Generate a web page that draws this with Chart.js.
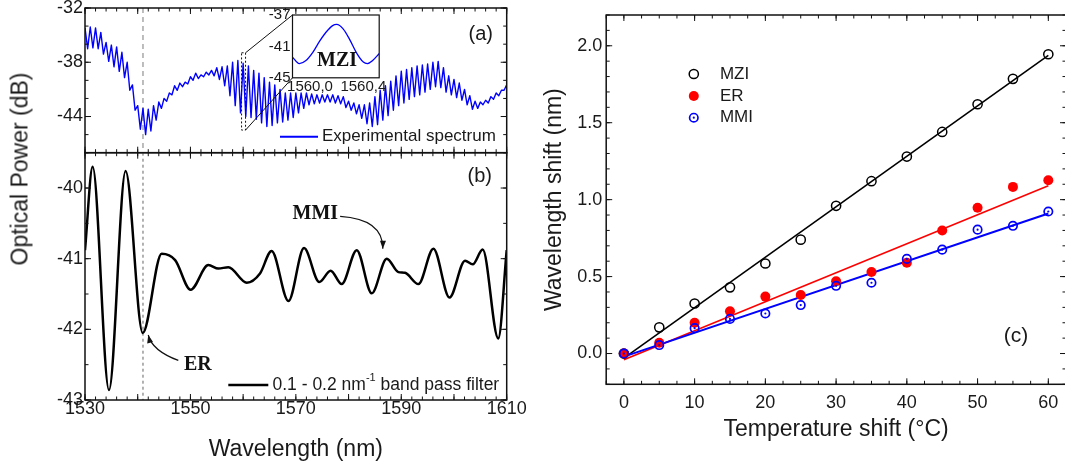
<!DOCTYPE html>
<html>
<head>
<meta charset="utf-8">
<script src="https://cdn.jsdelivr.net/npm/chart.js@4.4.1/dist/chart.umd.min.js"></script>
<style>
  html, body { margin: 0; padding: 0; background: #fff; }
  #wrap { position: relative; width: 1065px; height: 468px; overflow: hidden; background: #fff; }
  canvas { position: absolute; }
  #cA { left: 0; top: 0; z-index: 1; }
  #cB { left: 0; top: 140px; z-index: 2; }
  #cInset { left: 240px; top: 0; z-index: 3; }
  #cC { left: 520px; top: 0; z-index: 2; }
  #yTitle {
    position: absolute; left: 20px; top: 169px; z-index: 4;
    transform: translate(-50%, -50%) rotate(-90deg);
    font: 23px "Liberation Sans", Arial, sans-serif; color: #1a1a1a; white-space: nowrap;
  }
</style>
</head>
<body>
<div id="wrap">
  <canvas id="cA" width="520" height="160"></canvas>
  <canvas id="cB" width="560" height="328"></canvas>
  <canvas id="cInset" width="150" height="100"></canvas>
  <canvas id="cC" width="560" height="468"></canvas>
  <div id="yTitle">Optical Power (dB)</div>
</div>
<script>
// ---- (a) measured spectrum: fringe tops at whole nm, fringe bottoms half way between ----
const specStart = 1530;
const specHigh = [
  -34.2, -34.1, -34.2, -34.7, -35.8, -36.1, -36.3, -36.9, -38.0, -40.5,
  -42.8, -43.1, -43.2, -42.8, -42.4, -42.0, -41.4, -40.6, -40.3, -40.2,
  -39.6, -39.2, -39.4, -39.1, -38.9, -38.6, -38.5, -38.4, -38.0, -37.8,
  -38.1, -38.4, -38.9, -39.2, -39.7, -40.2, -40.5, -41.0, -41.4, -41.4,
  -41.4, -41.4, -41.4, -41.5, -41.6, -41.6, -41.6, -41.6, -41.7, -41.8,
  -42.3, -42.5, -42.7, -42.7, -42.5, -41.8, -41.1, -40.6, -40.1, -39.5,
  -39.0, -38.8, -38.6, -38.4, -38.3, -38.2, -38.0, -37.9, -38.6, -39.5,
  -39.9, -40.3, -41.0, -41.7, -42.3, -42.4, -42.2, -41.8, -41.4, -41.1,
  -40.5
];
const specLow = [
  -36.5, -36.4, -36.5, -37.1, -37.9, -38.5, -39.0, -39.7, -41.1, -43.3,
  -45.4, -46.0, -45.6, -44.4, -43.1, -42.3, -41.6, -41.1, -40.7, -40.4,
  -40.0, -39.8, -39.6, -39.4, -39.5, -39.9, -40.6, -41.7, -42.8, -43.6,
  -44.0, -44.1, -44.3, -44.7, -45.1, -45.0, -44.7, -44.6, -44.4, -44.1,
  -43.6, -43.1, -42.7, -42.6, -42.5, -42.4, -42.4, -42.5, -42.6, -43.0,
  -43.3, -43.7, -44.2, -44.8, -45.1, -44.9, -44.4, -43.9, -43.3, -42.8,
  -42.5, -42.1, -41.8, -41.6, -41.3, -41.0, -40.7, -40.8, -41.3, -41.6,
  -41.9, -42.2, -42.7, -43.2, -43.1, -42.7, -42.5, -42.1, -41.7, -41.1
];

// inset: one MZI fringe near 1560 nm
const insetWl = [1559.87, 1559.92, 1559.97, 1560.02, 1560.07, 1560.12, 1560.17, 1560.2,
                 1560.25, 1560.3, 1560.35, 1560.4, 1560.43, 1560.47, 1560.52];
const insetDb = [-42.4, -43.2, -42.8, -41.8, -40.4, -39.2, -38.35, -38.2,
                 -38.8, -40.2, -41.85, -43.0, -43.2, -42.8, -41.9];

// ---- (b) band pass filtered spectrum ----
const filtWl = [1530, 1531.45, 1534.55, 1537.7, 1540.95, 1544.55, 1547.1, 1550.05, 1553.4, 1555.3,
                1557.2, 1560.7, 1563.2, 1565.4, 1568.6, 1571.55, 1574.45, 1576.6, 1578.7, 1581.55,
                1584.4, 1587.25, 1589.45, 1590.7, 1593.25, 1596.1, 1599.15, 1602.1, 1603.55, 1605.45,
                1608.4, 1610];
const filtDb = [-40.88, -39.70, -42.86, -39.76, -42.05, -40.93, -41.02, -41.44, -41.09, -41.14,
                -41.12, -41.34, -41.21, -40.89, -41.60, -40.85, -41.33, -41.17, -41.36, -40.88,
                -41.49, -41.00, -41.19, -41.20, -41.36, -40.86, -41.55, -41.03, -41.08, -40.87,
                -42.13, -40.88];
const erWl = 1541;

// ---- (c) temperature response ----
const tempShift = [0, 5, 10, 15, 20, 25, 30, 35, 40, 45, 50, 55, 60];
const mziShift = [0, 0.17, 0.325, 0.43, 0.585, 0.74, 0.96, 1.12, 1.28, 1.44, 1.62, 1.785, 1.945];
const erShift  = [0, 0.07, 0.20, 0.275, 0.37, 0.38, 0.47, 0.53, 0.59, 0.80, 0.947, 1.083, 1.126];
const mmiShift = [0, 0.055, 0.165, 0.225, 0.26, 0.315, 0.44, 0.46, 0.615, 0.675, 0.805, 0.83, 0.923];
const fitT = [0, 60];
const mziFit = [-0.03, 1.937];
const erFit = [-0.04, 1.09];
const mmiFit = [-0.02, 0.91];

Chart.defaults.font.family = '"Liberation Sans", Arial, Helvetica, sans-serif';
Chart.defaults.color = '#1a1a1a';

const SANS = '"Liberation Sans", Arial, sans-serif';
const SERIF = '"Liberation Serif", "Times New Roman", serif';

function range(from, to, step) {
  const out = [];
  for (let v = from; v <= to + 1e-9; v += step) out.push(+v.toFixed(6));
  return out;
}
function pts(xs, ys) { return xs.map((x, i) => ({ x, y: ys[i] })); }

function zeroPad(s) { s.paddingTop = 0; s.paddingBottom = 0; s.paddingLeft = 0; s.paddingRight = 0; }

function axis(size, list, fmt, fontSize, pad, extra) {
  return Object.assign({
    type: 'linear',
    grid: { display: false, drawTicks: false },
    border: { display: false },
    ticks: { font: { size: fontSize }, padding: pad, autoSkip: false, maxRotation: 0, callback: fmt },
    afterBuildTicks: s => { s.ticks = list.map(value => ({ value })); },
    afterFit: s => { if (s.isHorizontal()) s.height = size; else s.width = size; zeroPad(s); }
  }, extra);
}

// box with inward ticks on all four sides
function makeFrame(spec) {
  return {
    id: 'frame',
    afterDatasetsDraw(chart) {
      const { ctx, chartArea: a, scales } = chart;
      ctx.save();
      ctx.strokeStyle = '#111';
      ctx.lineWidth = 1;
      const marks = (ax, vals, len) => {
        if (!vals) return;
        ctx.beginPath();
        vals.forEach(v => {
          const p = scales[ax].getPixelForValue(v);
          if (ax === 'x') {
            ctx.moveTo(p, a.bottom); ctx.lineTo(p, a.bottom - len);
            ctx.moveTo(p, a.top); ctx.lineTo(p, a.top + len);
          } else {
            ctx.moveTo(a.left, p); ctx.lineTo(a.left + len, p);
            ctx.moveTo(a.right, p); ctx.lineTo(a.right - len, p);
          }
        });
        ctx.stroke();
      };
      marks('x', spec.xMajor, 6); marks('x', spec.xMinor, 3.5);
      marks('y', spec.yMajor, 6); marks('y', spec.yMinor, 3.5);
      ctx.lineWidth = spec.width || 1.5;
      ctx.strokeRect(a.left, a.top, a.right - a.left, a.bottom - a.top);
      ctx.restore();
    }
  };
}

function vLine(chart, value, color, width, dash) {
  const { ctx, chartArea: a, scales: { x } } = chart;
  const px = x.getPixelForValue(value);
  ctx.save();
  ctx.strokeStyle = color; ctx.lineWidth = width; ctx.setLineDash(dash);
  ctx.beginPath(); ctx.moveTo(px, a.top); ctx.lineTo(px, a.bottom); ctx.stroke();
  ctx.restore();
}

function arrow(ctx, s, c, e) {
  ctx.beginPath(); ctx.moveTo(s[0], s[1]); ctx.quadraticCurveTo(c[0], c[1], e[0], e[1]); ctx.stroke();
  const ang = Math.atan2(e[1] - c[1], e[0] - c[0]);
  const L = 8, W = 3;
  ctx.beginPath();
  ctx.moveTo(e[0], e[1]);
  ctx.lineTo(e[0] - L * Math.cos(ang) + W * Math.sin(ang), e[1] - L * Math.sin(ang) - W * Math.cos(ang));
  ctx.lineTo(e[0] - L * Math.cos(ang) - W * Math.sin(ang), e[1] - L * Math.sin(ang) + W * Math.cos(ang));
  ctx.closePath(); ctx.fill();
}

const common = {
  responsive: false, animation: false, events: [],
  plugins: { legend: { display: false }, tooltip: { enabled: false } }
};

// ---- inset ----
const insetCanvas = document.getElementById('cInset');
const insetChart = new Chart(insetCanvas, {
  type: 'scatter',
  data: { datasets: [{ data: pts(insetWl, insetDb), showLine: true, borderColor: '#0000ff', borderWidth: 1.3,
                       pointRadius: 0, cubicInterpolationMode: 'monotone' }] },
  options: Object.assign({}, common, {
    layout: { padding: { top: 15, right: 10.8, bottom: 0, left: 0 } },
    scales: {
      x: axis(22.2, [1560.0, 1560.4], v => v.toFixed(1).replace('.', ','), 15, 0, { min: 1559.869, max: 1560.519 }),
      y: axis(52.5, [-45, -41, -37], v => String(v), 15, 2, { min: -45, max: -37 })
    }
  }),
  plugins: [{
    id: 'insetBox',
    beforeDatasetsDraw(chart) {
      const { ctx, chartArea: a } = chart;
      ctx.save(); ctx.fillStyle = '#fff'; ctx.fillRect(a.left, a.top, a.right - a.left, a.bottom - a.top); ctx.restore();
    },
    afterDatasetsDraw(chart) {
      const { ctx, chartArea: a, scales: { x, y } } = chart;
      ctx.save();
      ctx.strokeStyle = '#111'; ctx.lineWidth = 1.2;
      ctx.strokeRect(a.left, a.top, a.right - a.left, a.bottom - a.top);
      ctx.fillStyle = '#111';
      ctx.font = 'bold 20px ' + SERIF;
      ctx.textAlign = 'center'; ctx.textBaseline = 'middle';
      ctx.fillText('MZI', x.getPixelForValue(1560.203), y.getPixelForValue(-42.9));
      ctx.restore();
    }
  }]
});

// ---- panel (a) ----
const specPts = [];
specHigh.forEach((v, i) => {
  specPts.push({ x: specStart + i, y: v });
  if (i < specLow.length) specPts.push({ x: specStart + i + 0.5, y: specLow[i] });
});
const zoomBox = { x0: 1559.7, x1: 1560.46, y0: -45.5, y1: -36.95 };

const chartA = new Chart(document.getElementById('cA'), {
  type: 'scatter',
  data: { datasets: [{ data: specPts, showLine: true, borderColor: '#0000ff', borderWidth: 1.4,
                       pointRadius: 0, tension: 0, borderJoinStyle: 'round' }] },
  options: Object.assign({}, common, {
    layout: { padding: { top: 8, right: 13.3, bottom: 7.3, left: 0 } },
    scales: {
      x: { type: 'linear', min: 1530, max: 1610, display: false },
      y: axis(85, [-44, -38, -32], v => String(v), 18, 2, { min: -48, max: -32 })
    }
  }),
  plugins: [
    makeFrame({ xMajor: range(1530, 1610, 10), xMinor: range(1530, 1610, 2),
                yMajor: [-44, -38, -32], yMinor: range(-48, -32, 2) }),
    {
      id: 'panelA',
      beforeDatasetsDraw(chart) { vLine(chart, erWl, '#a8a8a8', 1.5, [5, 4]); },
      afterDatasetsDraw(chart) {
        const { ctx, chartArea: a, scales: { x, y } } = chart;
        ctx.save();
        // zoom window and connectors to the inset
        const bx0 = x.getPixelForValue(zoomBox.x0), bx1 = x.getPixelForValue(zoomBox.x1);
        const by0 = y.getPixelForValue(zoomBox.y1), by1 = y.getPixelForValue(zoomBox.y0);
        ctx.strokeStyle = '#111'; ctx.lineWidth = 1;
        ctx.setLineDash([2, 2]);
        ctx.strokeRect(bx0, by0, bx1 - bx0, by1 - by0);
        ctx.setLineDash([]);
        const ia = insetChart.chartArea;
        const ox = insetCanvas.offsetLeft, oy = insetCanvas.offsetTop;
        ctx.beginPath();
        ctx.moveTo(bx1, by0); ctx.lineTo(ox + ia.left, oy + ia.top);
        ctx.moveTo(bx1, by1); ctx.lineTo(ox + ia.left, oy + ia.bottom);
        ctx.stroke();
        // legend
        const ly = a.bottom - 16;
        ctx.strokeStyle = '#0000ff'; ctx.lineWidth = 2;
        ctx.beginPath(); ctx.moveTo(a.left + 195, ly); ctx.lineTo(a.left + 233, ly); ctx.stroke();
        ctx.fillStyle = '#1a1a1a';
        ctx.font = '17px ' + SANS; ctx.textAlign = 'left'; ctx.textBaseline = 'middle';
        ctx.fillText('Experimental spectrum', a.left + 237, ly);
        ctx.font = '20px ' + SANS; ctx.textAlign = 'center';
        ctx.fillText('(a)', a.right - 26, a.top + 26);
        ctx.restore();
      }
    }
  ]
});

// ---- panel (b) ----
const notes = [
  { text: 'MMI', at: [1573.7, -40.36], path: [[1578.4, -40.40], [1586.6, -40.44], [1586.5, -40.86]] },
  { text: 'ER', at: [1551.4, -42.50], path: [[1547.7, -42.44], [1542.7, -42.30], [1542.0, -42.08]] }
];

const chartB = new Chart(document.getElementById('cB'), {
  type: 'scatter',
  data: { datasets: [{ data: pts(filtWl, filtDb), showLine: true, borderColor: '#000', borderWidth: 2.5,
                       pointRadius: 0, cubicInterpolationMode: 'monotone' }] },
  options: Object.assign({}, common, {
    layout: { padding: { top: 12.7, right: 53.3, bottom: 0, left: 0 } },
    scales: {
      x: axis(68, [1530, 1550, 1570, 1590, 1610], v => String(v), 18, -2, {
        min: 1530, max: 1610,
        title: { display: true, text: 'Wavelength (nm)', font: { size: 23 }, padding: { top: 0, bottom: 4.2 } }
      }),
      y: axis(85, [-43, -42, -41, -40], v => String(v), 18, 2, { min: -43, max: -39.5 })
    }
  }),
  plugins: [
    makeFrame({ xMajor: range(1530, 1610, 10), xMinor: range(1530, 1610, 2),
                yMajor: range(-43, -40, 1), yMinor: range(-43, -39.5, 0.5) }),
    {
      id: 'panelB',
      beforeDatasetsDraw(chart) { vLine(chart, erWl, '#666', 1, [3, 3]); },
      afterDatasetsDraw(chart) {
        const { ctx, chartArea: a, scales: { x, y } } = chart;
        const P = p => [x.getPixelForValue(p[0]), y.getPixelForValue(p[1])];
        ctx.save();
        ctx.fillStyle = '#111'; ctx.strokeStyle = '#111'; ctx.lineWidth = 1.2;
        notes.forEach(n => {
          const t = P(n.at);
          ctx.font = 'bold 20px ' + SERIF; ctx.textAlign = 'center'; ctx.textBaseline = 'middle';
          ctx.fillText(n.text, t[0], t[1]);
          arrow(ctx, P(n.path[0]), P(n.path[1]), P(n.path[2]));
        });
        // legend with superscript
        const ly = a.bottom - 15;
        ctx.strokeStyle = '#000'; ctx.lineWidth = 2.5;
        ctx.beginPath(); ctx.moveTo(a.left + 143.3, ly); ctx.lineTo(a.left + 183.3, ly); ctx.stroke();
        ctx.fillStyle = '#1a1a1a'; ctx.textAlign = 'left'; ctx.textBaseline = 'middle';
        let tx = a.left + 187.5;
        ctx.font = '17.5px ' + SANS;
        ctx.fillText('0.1 - 0.2 nm', tx, ly); tx += ctx.measureText('0.1 - 0.2 nm').width;
        ctx.font = '11px ' + SANS;
        ctx.fillText('-1', tx, ly - 7); tx += ctx.measureText('-1').width;
        ctx.font = '17.5px ' + SANS;
        ctx.fillText(' band pass filter', tx, ly);
        ctx.font = '20px ' + SANS; ctx.textAlign = 'center';
        ctx.fillText('(b)', a.right - 27, a.top + 24);
        ctx.restore();
      }
    }
  ]
});

// ---- panel (c) ----
const chartC = new Chart(document.getElementById('cC'), {
  type: 'scatter',
  data: {
    datasets: [
      { data: pts(fitT, mziFit), showLine: true, borderColor: '#000', borderWidth: 1.6, pointRadius: 0, order: 10 },
      { data: pts(fitT, erFit), showLine: true, borderColor: '#ff0000', borderWidth: 1.6, pointRadius: 0, order: 9 },
      { data: pts(fitT, mmiFit), showLine: true, borderColor: '#0000ff', borderWidth: 2, pointRadius: 0, order: 8 },
      { data: pts(tempShift, mziShift), pointRadius: 4.6, pointBorderWidth: 1.5, pointBorderColor: '#000',
        pointBackgroundColor: 'rgba(0,0,0,0)', order: 5 },
      { data: pts(tempShift, erShift), pointRadius: 5, pointBorderWidth: 0, pointBorderColor: '#ff0000',
        pointBackgroundColor: '#ff0000', order: 4 },
      { data: pts(tempShift, mmiShift), pointRadius: 4.2, pointBorderWidth: 1.7, pointBorderColor: '#0000ff',
        pointBackgroundColor: 'rgba(0,0,0,0)', order: 3 },
      { data: pts(tempShift, mmiShift), pointRadius: 1.1, pointBorderWidth: 0, pointBorderColor: '#0000ff',
        pointBackgroundColor: '#0000ff', order: 2 }
    ]
  },
  options: Object.assign({}, common, {
    layout: { padding: { top: 15, right: 14, bottom: 0, left: 0 } },
    scales: {
      x: axis(83.7, range(0, 60, 10), v => String(v), 18, 8, {
        min: -2.5, max: 62.5,
        title: { display: true, text: 'Temperature shift (\u00B0C)', font: { size: 23 }, padding: { top: 0, bottom: 24.2 } }
      }),
      y: axis(86.2, range(0, 2, 0.5), v => v.toFixed(1), 18, 4, {
        min: -0.2, max: 2.2,
        title: { display: true, text: 'Wavelength shift (nm)', font: { size: 23 }, padding: { top: 21, bottom: 0 } }
      })
    }
  }),
  plugins: [
    makeFrame({ xMajor: range(0, 60, 10), xMinor: range(-2.5, 62.5, 2.5),
                yMajor: range(0, 2, 0.5), yMinor: range(-0.2, 2.2, 0.1) }),
    {
      id: 'panelC',
      afterDatasetsDraw(chart) {
        const { ctx, chartArea: a } = chart;
        ctx.save();
        const mx = a.left + 87.6, tx = a.left + 113.7;
        const rows = [
          { label: 'MZI', y: a.top + 59 },
          { label: 'ER', y: a.top + 81 },
          { label: 'MMI', y: a.top + 102.7 }
        ];
        // MZI: open black circle
        ctx.strokeStyle = '#000'; ctx.lineWidth = 1.5;
        ctx.beginPath(); ctx.arc(mx, rows[0].y, 4.6, 0, Math.PI * 2); ctx.stroke();
        // ER: filled red
        ctx.fillStyle = '#ff0000';
        ctx.beginPath(); ctx.arc(mx, rows[1].y, 5, 0, Math.PI * 2); ctx.fill();
        // MMI: blue circle with dot
        ctx.strokeStyle = '#0000ff'; ctx.lineWidth = 1.7; ctx.fillStyle = '#0000ff';
        ctx.beginPath(); ctx.arc(mx, rows[2].y, 4.2, 0, Math.PI * 2); ctx.stroke();
        ctx.beginPath(); ctx.arc(mx, rows[2].y, 1.1, 0, Math.PI * 2); ctx.fill();
        ctx.fillStyle = '#1a1a1a';
        ctx.font = '17px ' + SANS; ctx.textAlign = 'left'; ctx.textBaseline = 'middle';
        rows.forEach(r => ctx.fillText(r.label, tx, r.y));
        ctx.font = '21px ' + SANS; ctx.textAlign = 'center';
        ctx.fillText('(c)', a.right - 50, a.bottom - 47.6);
        ctx.restore();
      }
    }
  ]
});
</script>
</body>
</html>
